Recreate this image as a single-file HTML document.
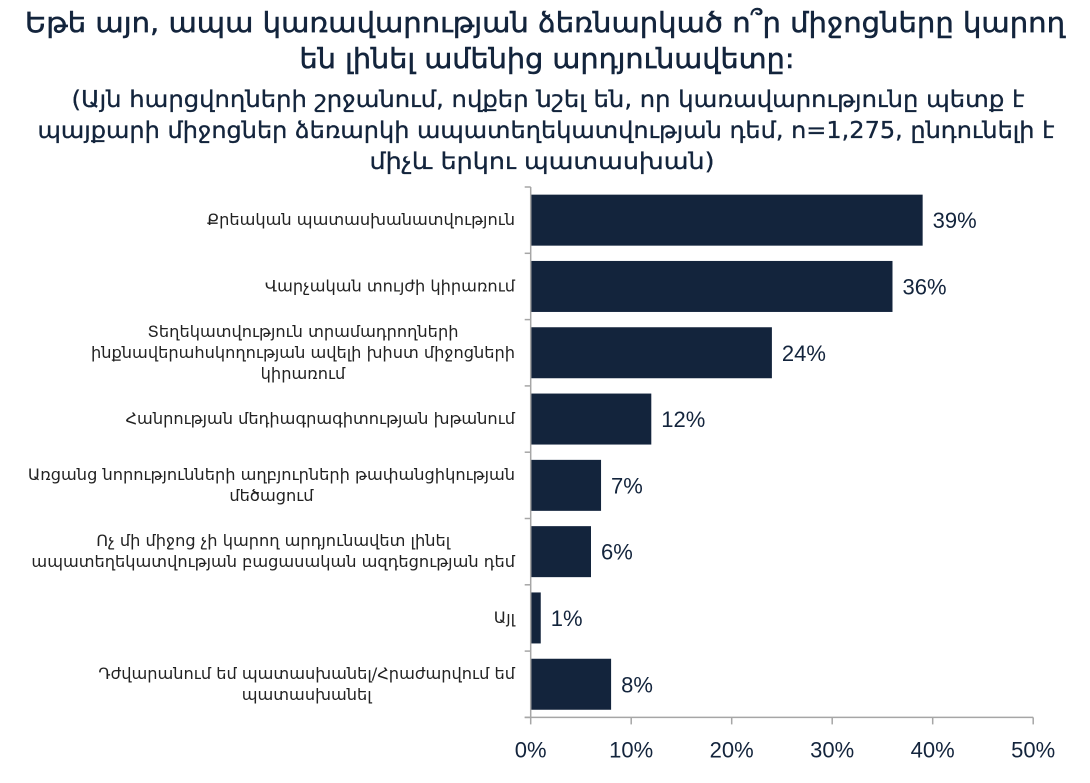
<!DOCTYPE html>
<html><head><meta charset="utf-8">
<style>
html,body{margin:0;padding:0;background:#fff;}
svg{display:block;font-family:"DejaVu Sans","Liberation Sans",sans-serif;}
</style></head>
<body>
<svg id="chart" width="1090" height="783" viewBox="0 0 1090 783">
  <g fill="#13243c" stroke="#13243c" stroke-width="0.5" text-anchor="middle">
    <text x="545" y="32" font-size="28" textLength="1040" lengthAdjust="spacingAndGlyphs">Եթե այո, ապա կառավարության ձեռնարկած ո՞ր միջոցները կարող</text>
    <text x="547" y="68" font-size="28" textLength="495" lengthAdjust="spacingAndGlyphs">են լինել ամենից արդյունավետը:</text>
  </g>
  <g fill="#13243c" stroke="#13243c" stroke-width="0.3" text-anchor="middle" font-size="23">
    <text x="548" y="107" textLength="953" lengthAdjust="spacingAndGlyphs">(Այն հարցվողների շրջանում, ովքեր նշել են, որ կառավարությունը պետք է</text>
    <text x="546" y="138" textLength="1017" lengthAdjust="spacingAndGlyphs">պայքարի միջոցներ ձեռարկի ապատեղեկատվության դեմ, n=1,275, ընդունելի է</text>
    <text x="542" y="169" textLength="345" lengthAdjust="spacingAndGlyphs">միչև երկու պատասխան)</text>
  </g>
  <g id="plot"></g>
</svg>
<script>
const categories = [
  ["Քրեական պատասխանատվություն"],
  ["Վարչական տույժի կիրառում"],
  ["Տեղեկատվություն տրամադրողների","ինքնավերահսկողության ավելի խիստ միջոցների","կիրառում"],
  ["Հանրության մեդիագրագիտության խթանում"],
  ["Առցանց նորությունների աղբյուրների թափանցիկության","մեծացում"],
  ["Ոչ մի միջոց չի կարող արդյունավետ լինել","ապատեղեկատվության բացասական ազդեցության դեմ"],
  ["Այլ"],
  ["Դժվարանում եմ պատասխանել/Հրաժարվում եմ","պատասխանել"]
];
const values = [39, 36, 24, 12, 7, 6, 1, 8];
const valueLabels = ["39%","36%","24%","12%","7%","6%","1%","8%"];
const tickValues = [0, 10, 20, 30, 40, 50];
const tickLabels = ["0%","10%","20%","30%","40%","50%"];

const NS = "http://www.w3.org/2000/svg";
const plot = document.getElementById('plot');
const X0 = 530.7, XPER = 10.05, TOP = 187, BAND = 66.3, BARH = 51;
const xs = v => X0 + v * XPER;
const ys = i => TOP + BAND * i;
const plotBottom = ys(categories.length);
function mk(tag, attrs, parent){
  const e = document.createElementNS(NS, tag);
  for (const k in attrs) e.setAttribute(k, attrs[k]);
  (parent || plot).appendChild(e);
  return e;
}
values.forEach((v, i) => {
  const cy = ys(i) + BAND / 2;
  const r = mk('rect', {x: X0, y: cy - BARH / 2, width: xs(v) - X0, height: BARH, fill: '#13243c'});
  
  
  const t = mk('text', {x: xs(v) + 10, y: cy + 8, 'font-size': 22, fill: '#13243c', 'font-family': 'Liberation Sans, sans-serif'});
  t.textContent = valueLabels[i];
  
  
});
categories.forEach((lines, i) => {
  const cy = ys(i) + BAND / 2;
  const g = mk('g', {});
  
  
  const lh = 21;
  const texts = lines.map((ln, j) => {
    const t = mk('text', {x: 0, y: cy - (lines.length - 1) * lh / 2 + j * lh + 5, 'font-size': 16.2, fill: '#222'}, g);
    t.textContent = ln;
    return t;
  });
  const w = Math.max(...texts.map(t => t.getComputedTextLength()));
  const right = 515, center = right - w / 2;
  texts.forEach(t => { t.setAttribute('x', center); t.setAttribute('text-anchor', 'middle'); });
});
const ya = mk('line', {x1: X0, y1: TOP, x2: X0, y2: plotBottom, stroke: '#a6a6a6', 'stroke-width': 1.5});


for (let i = 0; i <= categories.length; i++) {
  mk('line', {x1: X0 - 6, y1: ys(i), x2: X0, y2: ys(i), stroke: '#a6a6a6', 'stroke-width': 1.5});
}
const xa = mk('line', {x1: X0 - 6, y1: plotBottom, x2: xs(50), y2: plotBottom, stroke: '#a6a6a6', 'stroke-width': 1.5});


tickValues.forEach((v, i) => {
  mk('line', {x1: xs(v), y1: plotBottom, x2: xs(v), y2: plotBottom + 7, stroke: '#a6a6a6', 'stroke-width': 1.5});
  const t = mk('text', {x: xs(v), y: plotBottom + 40, 'font-size': 22, fill: '#13243c', 'text-anchor': 'middle', 'font-family': 'Liberation Sans, sans-serif'});
  t.textContent = tickLabels[i];
  
  
});
</script>
</body></html>
